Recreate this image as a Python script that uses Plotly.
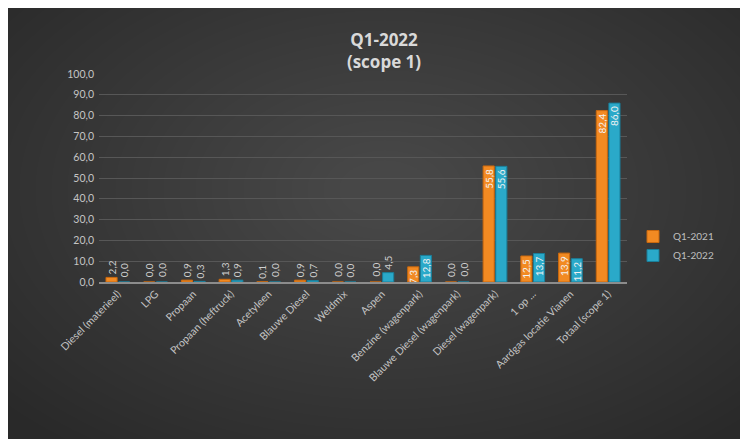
import plotly.graph_objects as go

categories = ["Diesel (materieel)", "LPG", "Propaan", "Propaan (heftruck)", "Acetyleen",
              "Blauwe Diesel", "Weldmix", "Aspen", "Benzine (wagenpark)",
              "Blauwe Diesel (wagenpark)", "Diesel (wagenpark)", "1 op ...",
              "Aardgas locatie Vianen", "Totaal (scope 1)"]
q1_2021 = [2.2, 0.0, 0.9, 1.3, 0.1, 0.9, 0.0, 0.0, 7.3, 0.0, 55.8, 12.5, 13.9, 82.4]
q1_2022 = [0.0, 0.0, 0.3, 0.9, 0.0, 0.7, 0.0, 4.5, 12.8, 0.0, 55.6, 13.7, 11.2, 86.0]
series_names = ["Q1-2021", "Q1-2022"]
y_ticks = [0, 10, 20, 30, 40, 50, 60, 70, 80, 90, 100]

W, H = 748, 439
L, R, T, B = 91, 129, 66, 165
pw, ph = W - L - R, H - T - B
BARGAP, GROUPGAP = 0.33, 0.12

def px(x):
    return (x - L) / pw

def py(y):
    return (H - B - y) / ph

LABEL_FONT = dict(family="Lato", size=10, color="#D0D0D0")

fig = go.Figure()
styles = [("#F28A22", "#C9680E"), ("#2AA9C9", "#1A7F9A")]
for name, vals, (col, lcol) in zip(series_names, [q1_2021, q1_2022], styles):
    fig.add_trace(go.Bar(
        x=categories, y=vals, name=name,
        marker=dict(color=col, line=dict(color=lcol, width=1)),
        texttemplate="%{y:.1f}", textposition="auto", textangle=-90,
        insidetextanchor="end", constraintext="none",
        insidetextfont=dict(family="Lato", size=10, color="#F2F2F2"),
        outsidetextfont=LABEL_FONT,
        cliponaxis=False,
    ))

# labels of zero-height bars (Plotly draws no text for them)
cat_px = pw / len(categories)
slot = cat_px * (1 - BARGAP) / 2
annotations = []
for k, vals in enumerate([q1_2021, q1_2022]):
    shift = (k - 0.5) * slot
    for c, v in zip(categories, vals):
        if v == 0:
            annotations.append(dict(x=c, y=v, xref="x", yref="y", text=f"{v:.1f}".replace(".", ","),
                                    textangle=-90, showarrow=False, xshift=shift, yshift=3,
                                    xanchor="center", yanchor="bottom", font=LABEL_FONT))

# soft radial light in the centre
shapes = []
N = 30
for i in range(N):
    f = 1 - i / N
    cx, cy = 377, 182
    rx, ry = 480 * f + 30, 300 * f + 20
    shapes.append(dict(type="circle", xref="paper", yref="paper", layer="below",
                       x0=px(cx - rx), x1=px(cx + rx), y0=py(cy + ry), y1=py(cy - ry),
                       fillcolor="rgba(255,255,255,0.0065)", line=dict(width=0)))

fig.update_layout(
    width=W, height=H,
    margin=dict(l=L, r=R, t=T, b=B, pad=0),
    paper_bgcolor="#292929", plot_bgcolor="rgba(0,0,0,0)",
    separators=",.",
    barmode="group", bargap=BARGAP, bargroupgap=GROUPGAP,
    shapes=shapes, annotations=annotations,
    title=dict(text="<b>Q1-2022<br>(scope 1)</b>", x=376 / W, xanchor="center",
               y=1 - 38 / H, yanchor="middle",
               font=dict(family="Open Sans", size=17, color="#D9D9D9")),
    font=dict(family="Lato", color="#BFBFBF"),
    legend=dict(x=px(625), xanchor="left", y=py(238), yanchor="middle",
                font=dict(family="Lato", size=10, color="#BFBFBF"),
                bgcolor="rgba(0,0,0,0)", itemwidth=30, tracegroupgap=0),
    xaxis=dict(tickangle=-45, tickfont=dict(family="Lato", size=10.5, color="#C4C4C4"),
               showline=True, linecolor="#8C8C8C", linewidth=1.5, ticks="",
               showgrid=False, automargin=False),
    yaxis=dict(range=[0, 100], tickvals=y_ticks, tickformat=".1f",
               tickfont=dict(family="Lato", size=10.5, color="#C4C4C4"),
               showgrid=True, gridcolor="#575757", gridwidth=1,
               zeroline=False, showline=False, ticks="", ticklabelstandoff=4,
               automargin=False),
)

fig.write_html("out.html")
